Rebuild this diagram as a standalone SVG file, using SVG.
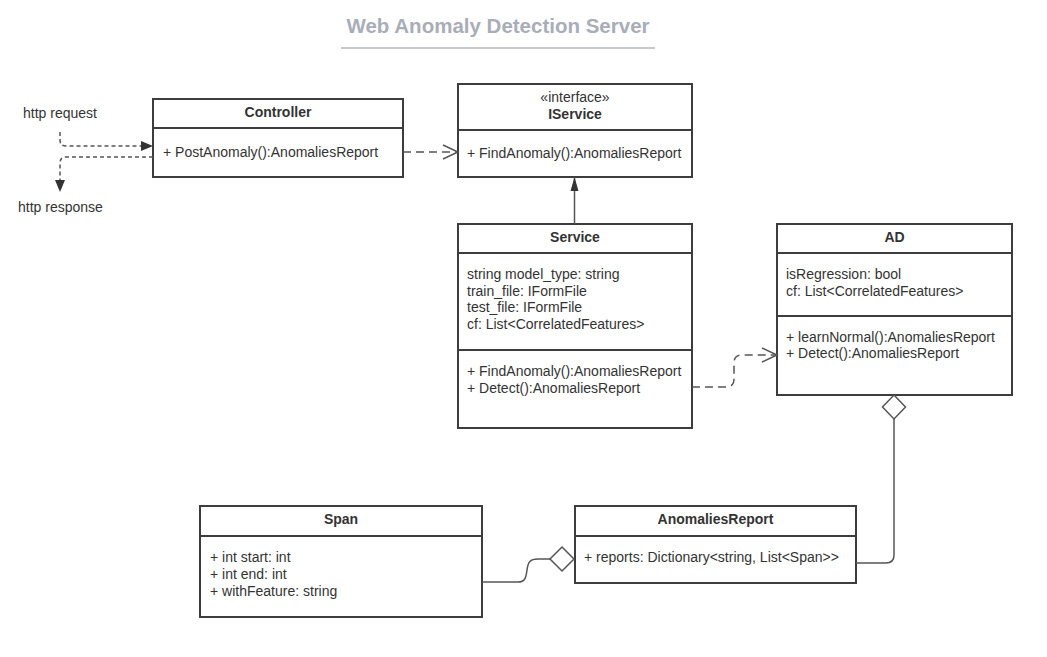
<svg xmlns="http://www.w3.org/2000/svg" width="1047" height="657" viewBox="0 0 1047 657">
  <style>
    .box { fill: #ffffff; stroke: #3d3d3d; stroke-width: 2; }
    .div { stroke: #3d3d3d; stroke-width: 2; }
    text { font-family: "Liberation Sans", Arial, sans-serif; font-size: 14px; fill: #333333; }
    .title { font-weight: bold; text-anchor: middle; }
    .center { text-anchor: middle; }
    .conn { fill: none; stroke: #555555; stroke-width: 1.5; }
    .dash { stroke-dasharray: 8 5; }
    .dot { stroke-dasharray: 4 3; }
    .diamond { fill: #ffffff; stroke: #555555; stroke-width: 1.5; }
  </style>
  <defs>
    <marker id="filled" markerUnits="userSpaceOnUse" markerWidth="14" markerHeight="12" refX="12" refY="6" orient="auto">
      <path d="M0,1 L12,6 L0,11 Z" fill="#333333"/>
    </marker>
    <marker id="tri" markerUnits="userSpaceOnUse" markerWidth="16" markerHeight="10" refX="14" refY="5" orient="auto">
      <path d="M0,1 L14,5 L0,9 Z" fill="#333333"/>
    </marker>
    <marker id="open" markerUnits="userSpaceOnUse" markerWidth="18" markerHeight="16" refX="16" refY="8" orient="auto">
      <path d="M1,1 L16,8 L1,15" fill="none" stroke="#555555" stroke-width="1.5"/>
    </marker>
  </defs>

  <rect width="1047" height="657" fill="#ffffff"/>

  <g id="title">
    <text x="498" y="33" class="title" style="font-size:20.5px; fill:#a9adb8;">Web Anomaly Detection Server</text>
    <line x1="341" y1="48" x2="655" y2="48" stroke="#b3b6c0" stroke-width="1.5"/>
  </g>

  <g id="http-labels">
    <text x="23" y="118">http request</text>
    <text x="18" y="212">http response</text>
  </g>

  <g id="controller">
    <rect class="box" x="153" y="99" width="250" height="78"/>
    <line class="div" x1="153" y1="128" x2="403" y2="128"/>
    <text x="278" y="117" class="title">Controller</text>
    <text x="163" y="157">+ PostAnomaly():AnomaliesReport</text>
  </g>

  <g id="iservice">
    <rect class="box" x="458" y="84" width="234" height="93"/>
    <line class="div" x1="458" y1="130" x2="692" y2="130"/>
    <text x="575" y="102" class="center">«interface»</text>
    <text x="575" y="119" class="title">IService</text>
    <text x="467" y="158">+ FindAnomaly():AnomaliesReport</text>
  </g>

  <g id="service">
    <rect class="box" x="458" y="224" width="234" height="204"/>
    <line class="div" x1="458" y1="253" x2="692" y2="253"/>
    <line class="div" x1="458" y1="350" x2="692" y2="350"/>
    <text x="575" y="242" class="title">Service</text>
    <text x="467" y="279">string model_type: string</text>
    <text x="467" y="295.7">train_file: IFormFile</text>
    <text x="467" y="312.4">test_file: IFormFile</text>
    <text x="467" y="329">cf: List&lt;CorrelatedFeatures&gt;</text>
    <text x="467" y="376">+ FindAnomaly():AnomaliesReport</text>
    <text x="467" y="392.5">+ Detect():AnomaliesReport</text>
  </g>

  <g id="ad">
    <rect class="box" x="777" y="224" width="235" height="171"/>
    <line class="div" x1="777" y1="253" x2="1012" y2="253"/>
    <line class="div" x1="777" y1="316" x2="1012" y2="316"/>
    <text x="894.5" y="242" class="title">AD</text>
    <text x="786" y="279">isRegression: bool</text>
    <text x="786" y="295.5">cf: List&lt;CorrelatedFeatures&gt;</text>
    <text x="786" y="342">+ learnNormal():AnomaliesReport</text>
    <text x="786" y="358">+ Detect():AnomaliesReport</text>
  </g>

  <g id="span">
    <rect class="box" x="200" y="506" width="282" height="111"/>
    <line class="div" x1="200" y1="536" x2="482" y2="536"/>
    <text x="341" y="524" class="title">Span</text>
    <text x="210" y="562">+ int start: int</text>
    <text x="210" y="579">+ int end: int</text>
    <text x="210" y="596">+ withFeature: string</text>
  </g>

  <g id="anomaliesreport">
    <rect class="box" x="575" y="506" width="281" height="77"/>
    <line class="div" x1="575" y1="536" x2="856" y2="536"/>
    <text x="715.5" y="524" class="title">AnomaliesReport</text>
    <text x="584" y="562">+ reports: Dictionary&lt;string, List&lt;Span&gt;&gt;</text>
  </g>

  <g id="connectors">
    <path class="conn dot" d="M60,132 L60,140 Q60,146 66,146 L153,146" marker-end="url(#filled)"/>
    <path class="conn dot" d="M153,157 L66,157 Q60,157 60,163 L60,192" marker-end="url(#filled)"/>
    <path class="conn dash" d="M403,152 L458,152" marker-end="url(#open)"/>
    <path class="conn" d="M574.5,224 L574.5,177" marker-end="url(#tri)"/>
    <path class="conn dash" d="M692,387 L726,387 Q734,387 734,379 L734,363 Q734,355 742,355 L777,355" marker-end="url(#open)"/>
    <path class="conn" d="M894,419 L894,555 Q894,563 886,563 L856,563"/>
    <polygon class="diamond" points="894,395 905.5,407 894,419 882.5,407"/>
    <path class="conn" d="M482,582 L518,582 C525,582 526,578 527,570 C528,562 530,559 538,559 L550,559"/>
    <polygon class="diamond" points="574,559 562,547 550,559 562,571"/>
  </g>
</svg>
